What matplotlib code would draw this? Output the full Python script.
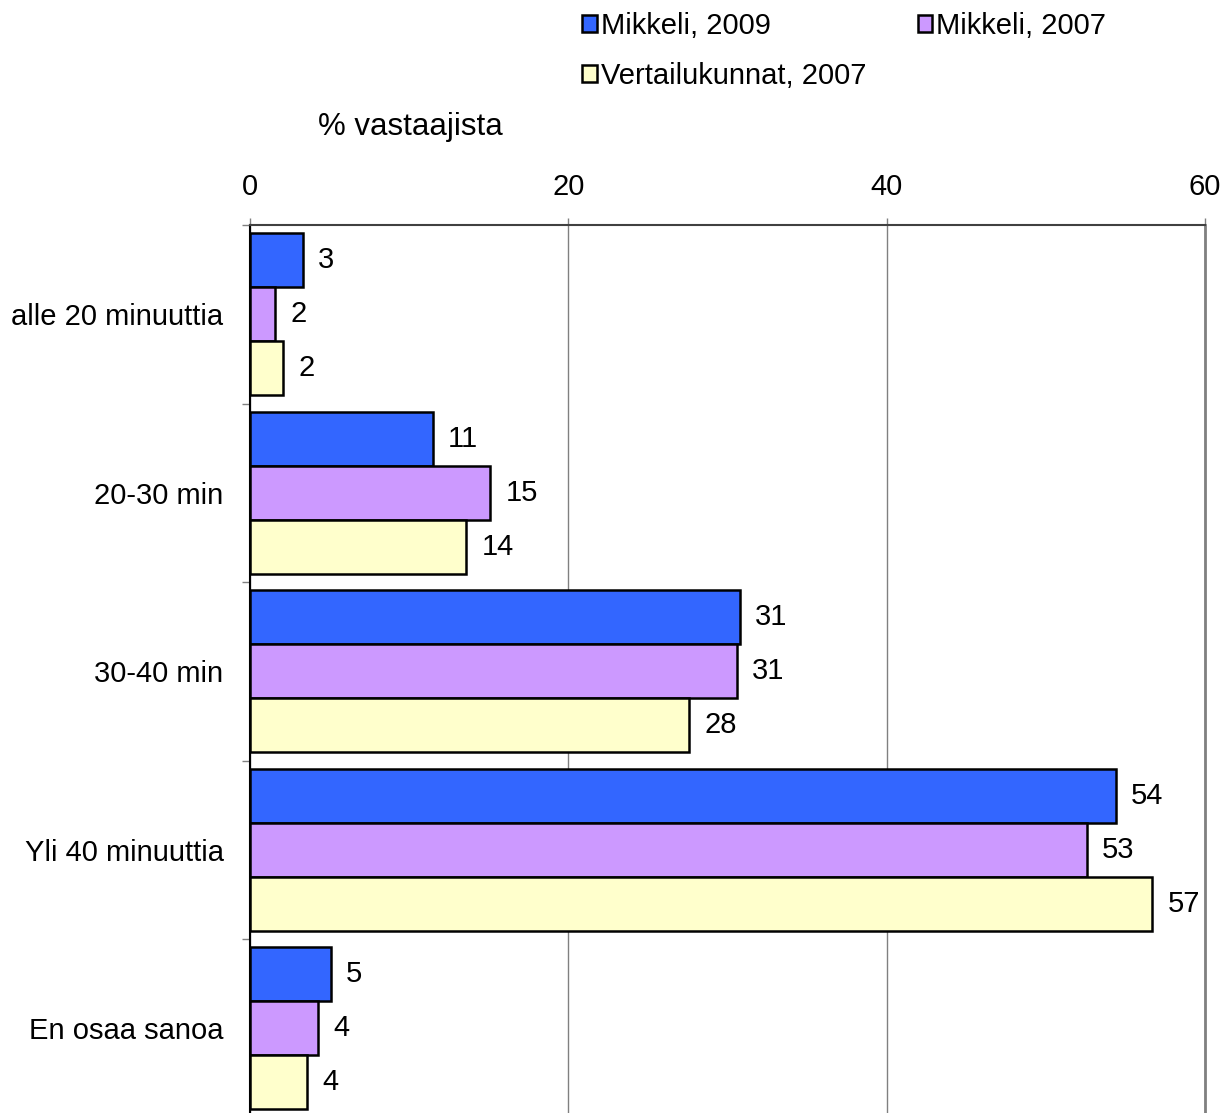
import matplotlib
matplotlib.use("Agg")
import matplotlib.pyplot as plt
import numpy as np

plt.rcParams['font.family'] = ['Liberation Sans', 'DejaVu Sans']

categories = ["alle 20 minuuttia", "20-30 min", "30-40 min", "Yli 40 minuuttia", "En osaa sanoa"]
series_names = ["Mikkeli, 2009", "Mikkeli, 2007", "Vertailukunnat, 2007"]
mikkeli_2009 = [3.3, 11.5, 30.8, 54.4, 5.1]
mikkeli_2007 = [1.6, 15.1, 30.6, 52.6, 4.3]
vertailu_2007 = [2.1, 13.6, 27.6, 56.7, 3.6]
labels_2009 = [3, 11, 31, 54, 5]
labels_2007 = [2, 15, 31, 53, 4]
labels_vert = [2, 14, 28, 57, 4]
colors = ["#3366FF", "#CC99FF", "#FFFFCC"]
xticks = [0, 20, 40, 60]

FS = 21

W, H = 1231, 1113
fig = plt.figure(figsize=(W / 100, H / 100), dpi=100)
left, right, top, bottom = 250, 1205, 225, 1117.5
ax = fig.add_axes([left / W, 1 - bottom / H, (right - left) / W, (bottom - top) / H])

bh = 0.3025
y = np.arange(len(categories))
series = [mikkeli_2009, mikkeli_2007, vertailu_2007]
lbls = [labels_2009, labels_2007, labels_vert]
handles = []
for i, (vals, lab, col, name) in enumerate(zip(series, lbls, colors, series_names)):
    pos = y + (i - 1) * bh
    b = ax.barh(pos, vals, height=bh, color=col, edgecolor="black", linewidth=1.8,
                label=name, zorder=3)
    handles.append(b)
    for p, v, t in zip(pos, vals, lab):
        ax.annotate(str(t), (v, p), xytext=(15, 0), textcoords="offset pixels",
                    ha="left", va="center", fontsize=FS, zorder=4)

ax.set_xlim(0, 60)
ax.set_ylim(len(categories) - 0.5, -0.5)

ax.xaxis.tick_top()
ax.set_xticks(xticks)
ax.set_xticklabels([str(t) for t in xticks], fontsize=FS)
ax.tick_params(axis="x", which="major", direction="out", length=5, width=1, color="#808080", pad=12)
ax.grid(axis="x", color="#808080", linewidth=1, zorder=0)

ax.set_yticks(np.arange(len(categories) + 1) - 0.5)
ax.set_yticklabels([])
ax.set_yticks(y, minor=True)
ax.set_yticklabels(categories, minor=True, fontsize=FS)
ax.tick_params(axis="y", which="major", direction="out", length=6, width=1, color="#808080")
ax.tick_params(axis="y", which="minor", length=0, pad=19)

ax.spines["bottom"].set_visible(False)
ax.spines["top"].set_color("#404040")
ax.spines["top"].set_linewidth(1.5)
ax.spines["left"].set_color("black")
ax.spines["left"].set_linewidth(1.5)
ax.spines["right"].set_color("#808080")
ax.spines["right"].set_linewidth(2)

fig.text(318 / W, 1 - 127 / H, "% vastaajista", fontsize=22.5, ha="left", va="center")

leg = fig.legend([handles[0], handles[2], handles[1]],
                 [series_names[0], series_names[2], series_names[1]],
                 ncol=2, loc="upper left", bbox_to_anchor=(582 / W, 1 - 12 / H),
                 frameon=False, fontsize=FS, handlelength=0.5, handleheight=0.5,
                 handletextpad=0.15, columnspacing=1.75, labelspacing=0.75, borderaxespad=0,
                 borderpad=0)

fig.savefig("out.png", dpi=100)
